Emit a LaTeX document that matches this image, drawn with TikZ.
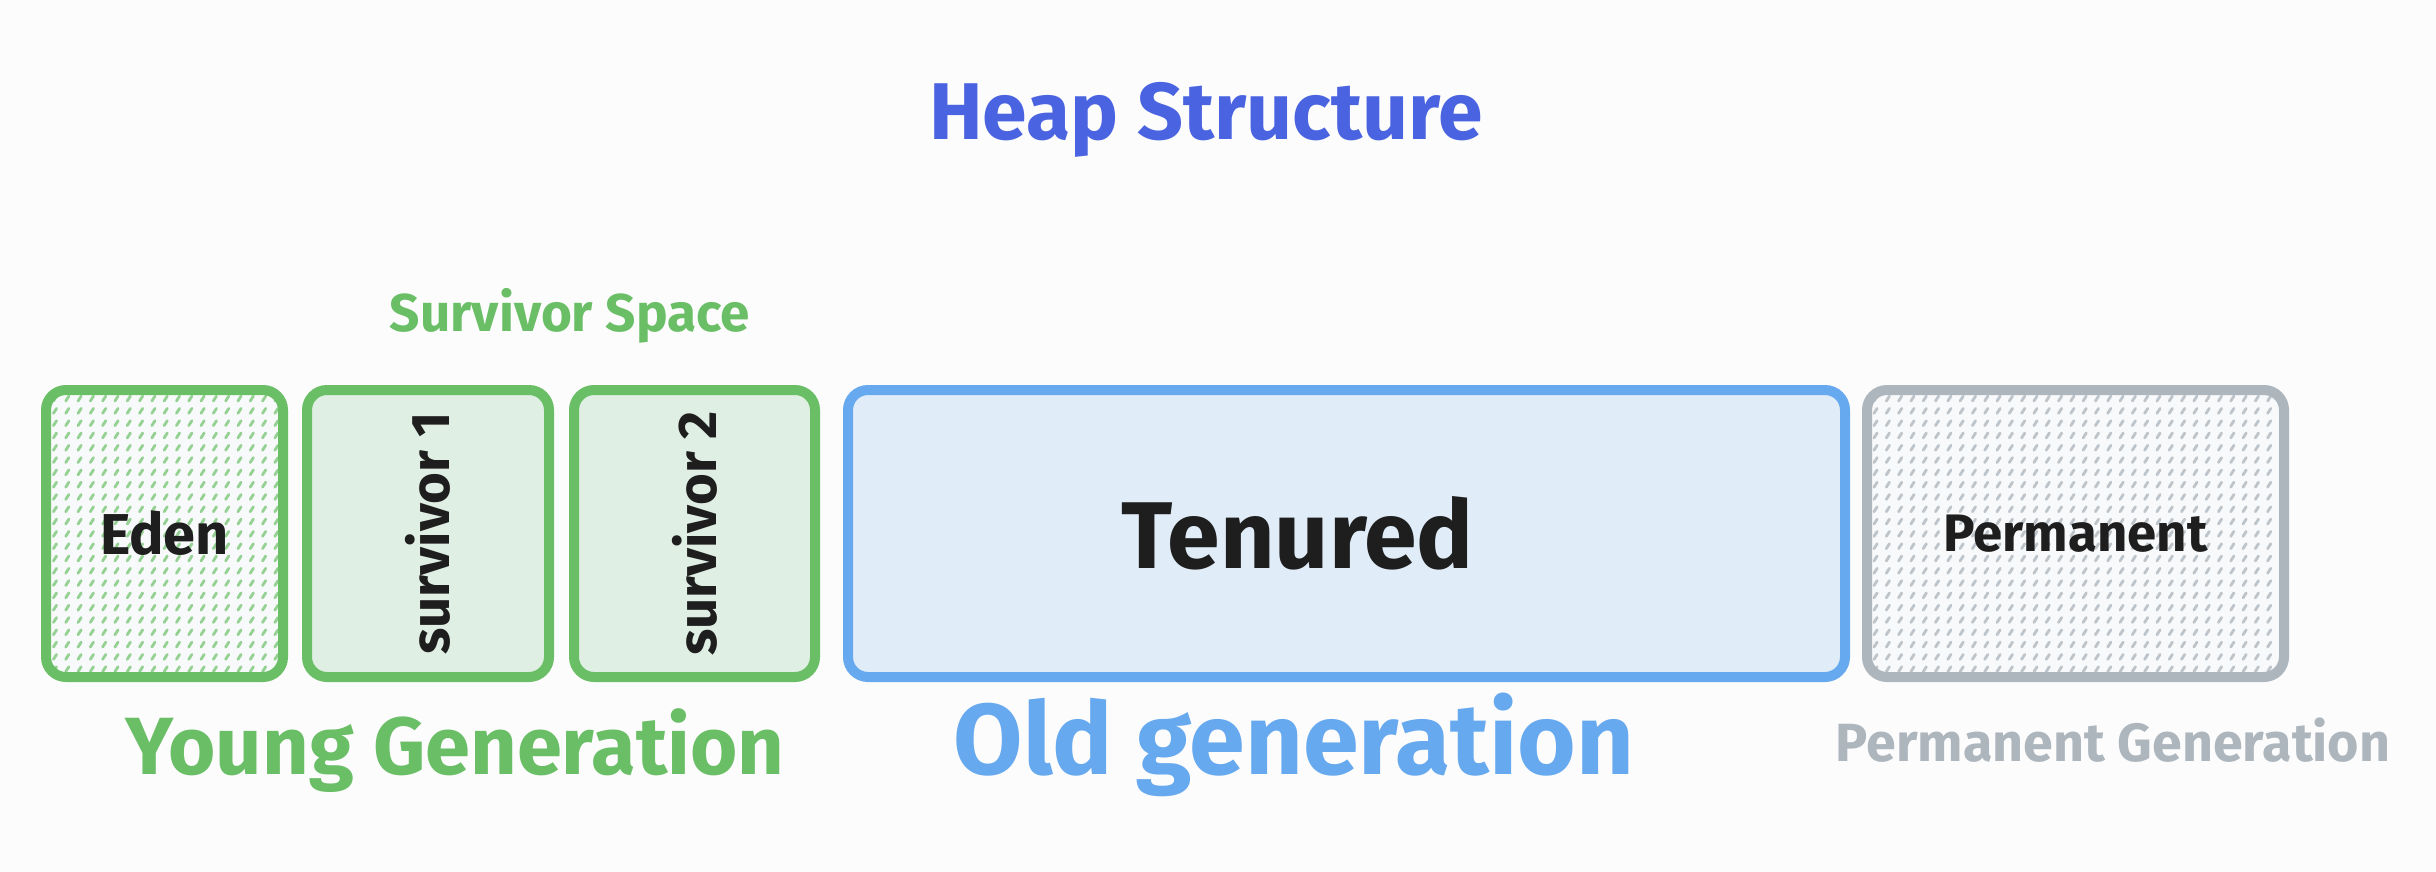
\documentclass[tikz,border=0pt]{standalone}
\usepackage{fontspec}
\setmainfont{Fira Sans}
\usetikzlibrary{patterns.meta}

\definecolor{youngline}{RGB}{105,190,102}
\definecolor{youngfill}{RGB}{224,239,227}
\definecolor{oldline}{RGB}{102,169,239}
\definecolor{oldfill}{RGB}{225,236,249}
\definecolor{permline}{RGB}{173,181,189}
\definecolor{paper}{RGB}{248,249,250}
\definecolor{titleblue}{RGB}{74,99,224}
\definecolor{ink}{RGB}{30,30,30}

\tikzdeclarepattern{
  name=dashhatch, type=uncolored,
  bottom left={(-.1pt,-.1pt)}, top right={(3.6pt,3.6pt)},
  tile size={(3.5pt,3.5pt)},
  code={\draw[line width=0.8pt, line cap=round] (1.2pt,1.0pt) -- (2.1pt,2.4pt);}
}

\tikzset{
  region/.style={draw, line width=0.1cm, rounded corners=0.2cm,
    minimum height=2.87cm, inner sep=0pt, text=ink, font=\bfseries},
  hatched/.style={preaction={fill=paper}, pattern=dashhatch, pattern color=#1},
  caption/.style={inner sep=0pt, anchor=base}
}

\begin{document}
\begin{tikzpicture}
\fill [white!99!black] (0,0) rectangle (24.36,-8.72);
\useasboundingbox (0,0) rectangle (24.36,-8.72);
% title
\node [caption, text=titleblue, font=\bfseries\fontsize{22.9}{27}\selectfont] (heap) at (12.06,-1.40) {Heap Structure};
% young generation
\node [caption, text=youngline, font=\bfseries\fontsize{15.1}{18}\selectfont] (survspace) at (5.70,-3.31) {Survivor Space};
\node [region, draw=youngline, hatched=youngline!70, minimum width=2.37cm, font=\bfseries\fontsize{16.4}{19}\selectfont] (eden) at (1.645,-5.335) {Eden};
\node [region, draw=youngline, fill=youngfill, rotate=90, minimum width=2.87cm, minimum height=2.42cm, font=\bfseries\fontsize{15.5}{18}\selectfont] (surv1) at (4.28,-5.335) {survivor 1};
\node [region, draw=youngline, fill=youngfill, rotate=90, minimum width=2.87cm, minimum height=2.41cm, font=\bfseries\fontsize{15.5}{18}\selectfont] (surv2) at (6.945,-5.335) {survivor 2};
\node [caption, text=youngline, font=\bfseries\fontsize{23.1}{27}\selectfont] (young) at (4.55,-7.74) {Young Generation};
% old generation
\node [region, draw=oldline, fill=oldfill, minimum width=9.97cm,
  label={[text=ink, xshift=-0.49cm, font=\bfseries\fontsize{27}{32}\selectfont]center:Tenured}] (tenured) at (13.465,-5.335) {};
\node [caption, text=oldline, font=\bfseries\fontsize{28.6}{34}\selectfont] (old) at (12.94,-7.74) {Old generation};
% permanent generation
\node [region, draw=permline, hatched=permline!80, minimum width=4.17cm, font=\bfseries\fontsize{15}{18}\selectfont] (perm) at (20.755,-5.335) {Permanent};
\node [caption, text=permline, font=\bfseries\fontsize{15.3}{18}\selectfont] (permgen) at (21.13,-7.61) {Permanent Generation};
\end{tikzpicture}
\end{document}
